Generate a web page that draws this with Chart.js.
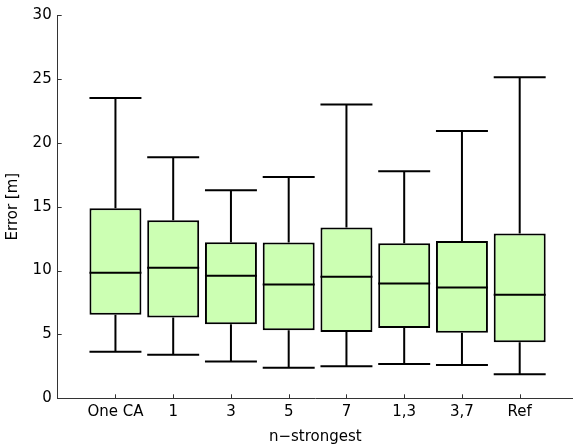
<!DOCTYPE html>
<html>
<head>
<meta charset="utf-8">
<script src="https://cdn.jsdelivr.net/npm/chart.js@4"></script>
<style>
html,body{margin:0;padding:0;background:#fff;overflow:hidden;}
#wrap{width:573px;height:447px;position:relative;}
</style>
</head>
<body>
<div id="wrap"><canvas id="c" width="573" height="447"></canvas></div>
<script>
const categories = ['One CA', '1', '3', '5', '7', '1,3', '3,7', 'Ref'];
const whiskerLow  = [3.64, 3.41, 2.89, 2.39, 2.50, 2.68, 2.60, 1.88];
const q1Values    = [6.54, 6.33, 5.79, 5.32, 5.18, 5.50, 5.13, 4.38];
const medians     = [9.82, 10.21, 9.59, 8.91, 9.51, 8.99, 8.68, 8.10];
const q3Values    = [14.88, 13.94, 12.22, 12.20, 13.37, 12.14, 12.32, 12.90];
const whiskerHigh = [23.50, 18.87, 16.29, 17.33, 22.99, 17.77, 20.92, 25.12];
const yTicks = [0, 5, 10, 15, 20, 25, 30];

const FONT = {family: 'DejaVu Sans', size: 15};
const HALF = 0.45;

const boxData = categories.map((c, i) => ({x: i, y: [q1Values[i], q3Values[i]]}));

const whiskerPlugin = {
  id: 'whiskers',
  beforeDatasetsDraw(chart) {
    const {ctx, scales: {x, y}} = chart;
    ctx.save();
    ctx.strokeStyle = '#000';
    ctx.lineWidth = 2;
    ctx.lineCap = 'butt';
    categories.forEach((c, i) => {
      const cx = x.getPixelForValue(i);
      const l = x.getPixelForValue(i - HALF);
      const r = x.getPixelForValue(i + HALF);
      const yLo = y.getPixelForValue(whiskerLow[i]);
      const yHi = y.getPixelForValue(whiskerHigh[i]);
      const yQ1 = y.getPixelForValue(q1Values[i]);
      const yQ3 = y.getPixelForValue(q3Values[i]);
      ctx.beginPath();
      ctx.moveTo(cx, yHi); ctx.lineTo(cx, yQ3);
      ctx.moveTo(cx, yQ1); ctx.lineTo(cx, yLo);
      ctx.moveTo(l, yHi); ctx.lineTo(r, yHi);
      ctx.moveTo(l, yLo); ctx.lineTo(r, yLo);
      ctx.stroke();
    });
    ctx.restore();
  },
  afterDatasetsDraw(chart) {
    const {ctx, scales: {x, y}} = chart;
    ctx.save();
    ctx.strokeStyle = '#000';
    ctx.lineWidth = 2;
    categories.forEach((c, i) => {
      const l = x.getPixelForValue(i - HALF);
      const r = x.getPixelForValue(i + HALF);
      const ym = y.getPixelForValue(medians[i]);
      ctx.beginPath();
      ctx.moveTo(l, ym); ctx.lineTo(r, ym);
      ctx.stroke();
    });
    // inward tick marks
    ctx.strokeStyle = '#333';
    ctx.lineWidth = 1;
    ctx.beginPath();
    const left = chart.chartArea.left, bottom = chart.chartArea.bottom;
    yTicks.forEach(v => {
      const py = Math.round(y.getPixelForValue(v)) + 0.5;
      ctx.moveTo(left, py); ctx.lineTo(left + 4, py);
    });
    categories.forEach((c, i) => {
      const px = Math.round(x.getPixelForValue(i)) + 0.5;
      ctx.moveTo(px, bottom); ctx.lineTo(px, bottom - 4);
    });
    ctx.stroke();
    ctx.restore();
  }
};

new Chart(document.getElementById('c'), {
  type: 'bar',
  data: {
    datasets: [{
      data: boxData,
      backgroundColor: '#ccffb3',
      borderColor: '#000',
      borderWidth: 2,
      borderSkipped: false,
      barPercentage: 0.9,
      categoryPercentage: 1.0
    }]
  },
  options: {
    responsive: false,
    animation: false,
    layout: {padding: {top: 14.7, left: 0, right: 0, bottom: 0}},
    plugins: {legend: {display: false}, tooltip: {enabled: false}},
    scales: {
      x: {
        type: 'linear',
        min: -1,
        max: 7.923,
        offset: false,
        afterFit: s => { s.height = 48.7; },
        afterBuildTicks: s => { s.ticks = categories.map((c, i) => ({value: i})); },
        grid: {display: false, drawTicks: false},
        border: {display: true, color: '#333', width: 1},
        ticks: {
          color: '#000',
          font: FONT,
          padding: 5,
          maxRotation: 0,
          autoSkip: false,
          callback: v => categories[v] ?? ''
        },
        title: {display: true, text: 'n\u2212strongest', color: '#000', font: FONT, padding: {top: 0, bottom: 1}}
      },
      y: {
        min: 0,
        max: 30,
        afterFit: s => { s.width = 57.7; },
        afterBuildTicks: s => { s.ticks = yTicks.map(v => ({value: v})); },
        grid: {display: false, drawTicks: false},
        border: {display: true, color: '#333', width: 1},
        ticks: {color: '#000', font: FONT, padding: 6},
        title: {display: true, text: 'Error [m]', color: '#000', font: FONT, padding: {top: 3.7, bottom: 0}}
      }
    }
  },
  plugins: [whiskerPlugin]
});
</script>
</body>
</html>
